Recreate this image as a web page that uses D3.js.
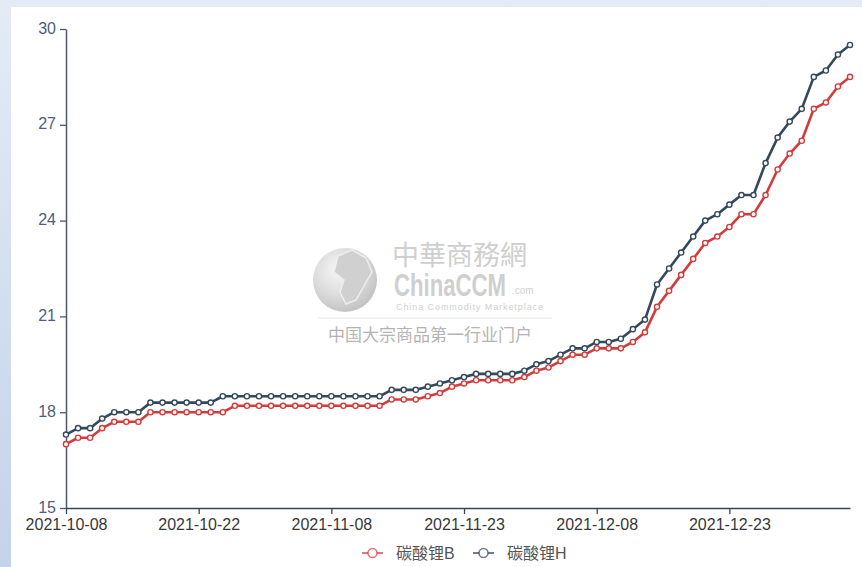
<!DOCTYPE html>
<html>
<head>
<meta charset="utf-8">
<title>碳酸锂 price chart</title>
<style>
  body { margin: 0; padding: 0; background: #fff; }
  svg { display: block; font-family: "Liberation Sans", "Noto Sans CJK SC", sans-serif; }
</style>
</head>
<body>
<script src="https://d3js.org/d3.v7.min.js"></script>
<script>
  var width = 862,
      height = 567;

  // trading days shown on the category axis
  var dates = [
    "2021-10-08", "2021-10-09", "2021-10-11", "2021-10-12", "2021-10-13", "2021-10-14", "2021-10-15",
    "2021-10-18", "2021-10-19", "2021-10-20", "2021-10-21", "2021-10-22",
    "2021-10-25", "2021-10-26", "2021-10-27", "2021-10-28", "2021-10-29",
    "2021-11-01", "2021-11-02", "2021-11-03", "2021-11-04", "2021-11-05",
    "2021-11-08", "2021-11-09", "2021-11-10", "2021-11-11", "2021-11-12",
    "2021-11-15", "2021-11-16", "2021-11-17", "2021-11-18", "2021-11-19",
    "2021-11-22", "2021-11-23", "2021-11-24", "2021-11-25", "2021-11-26",
    "2021-11-29", "2021-11-30", "2021-12-01", "2021-12-02", "2021-12-03",
    "2021-12-06", "2021-12-07", "2021-12-08", "2021-12-09", "2021-12-10",
    "2021-12-13", "2021-12-14", "2021-12-15", "2021-12-16", "2021-12-17",
    "2021-12-20", "2021-12-21", "2021-12-22", "2021-12-23", "2021-12-24",
    "2021-12-27", "2021-12-28", "2021-12-29", "2021-12-30", "2021-12-31",
    "2022-01-04", "2022-01-05", "2022-01-06", "2022-01-07"
  ];

  var seriesB = [
    17.0, 17.2, 17.2, 17.5, 17.7, 17.7, 17.7, 18.0, 18.0, 18.0, 18.0, 18.0,
    18.0, 18.0, 18.2, 18.2, 18.2, 18.2, 18.2, 18.2, 18.2, 18.2,
    18.2, 18.2, 18.2, 18.2, 18.2, 18.4, 18.4, 18.4, 18.5, 18.6,
    18.8, 18.9, 19.0, 19.0, 19.0, 19.0, 19.1, 19.3, 19.4, 19.6,
    19.8, 19.8, 20.0, 20.0, 20.0, 20.2, 20.5, 21.3, 21.8, 22.3,
    22.8, 23.3, 23.5, 23.8, 24.2, 24.2, 24.8, 25.6, 26.1, 26.5,
    27.5, 27.7, 28.2, 28.5
  ];

  var seriesH = [
    17.3, 17.5, 17.5, 17.8, 18.0, 18.0, 18.0, 18.3, 18.3, 18.3, 18.3, 18.3,
    18.3, 18.5, 18.5, 18.5, 18.5, 18.5, 18.5, 18.5, 18.5, 18.5,
    18.5, 18.5, 18.5, 18.5, 18.5, 18.7, 18.7, 18.7, 18.8, 18.9,
    19.0, 19.1, 19.2, 19.2, 19.2, 19.2, 19.3, 19.5, 19.6, 19.8,
    20.0, 20.0, 20.2, 20.2, 20.3, 20.6, 20.9, 22.0, 22.5, 23.0,
    23.5, 24.0, 24.2, 24.5, 24.8, 24.8, 25.8, 26.6, 27.1, 27.5,
    28.5, 28.7, 29.2, 29.5
  ];

  var seriesNames = ["碳酸锂B", "碳酸锂H"];
  var seriesColors = ["#d43c3c", "#34495c"];
  var yTicks = [15, 18, 21, 24, 27, 30];
  var xLabelEvery = 11;

  var svg = d3.select("body").append("svg")
      .attr("width", width)
      .attr("height", height);

  // page frame: bluish border strips and white panel
  var defs = svg.append("defs");
  var bgGrad = defs.append("linearGradient")
      .attr("id", "bg-grad")
      .attr("x1", 0).attr("y1", 0).attr("x2", 0).attr("y2", 1);
  bgGrad.append("stop").attr("offset", "0%").attr("stop-color", "#e4ebf5");
  bgGrad.append("stop").attr("offset", "100%").attr("stop-color", "#c3d3ea");

  svg.append("rect")
      .attr("width", width)
      .attr("height", height)
      .attr("fill", "url(#bg-grad)");

  svg.append("rect")
      .attr("x", 11)
      .attr("y", 7)
      .attr("width", width - 11)
      .attr("height", height - 7)
      .attr("fill", "#fff");

  // watermark
  var globeGrad = defs.append("radialGradient")
      .attr("id", "globe-grad")
      .attr("cx", "40%").attr("cy", "35%").attr("r", "65%");
  globeGrad.append("stop").attr("offset", "0%").attr("stop-color", "#f7f7f7");
  globeGrad.append("stop").attr("offset", "60%").attr("stop-color", "#dcdcdc");
  globeGrad.append("stop").attr("offset", "100%").attr("stop-color", "#c4c4c4");

  var wm = svg.append("g").attr("class", "watermark");
  wm.append("circle")
      .attr("cx", 345).attr("cy", 280).attr("r", 32)
      .attr("fill", "url(#globe-grad)");
  wm.append("path")
      .attr("d", "M338,256 L352,250 L366,258 L372,272 L364,286 L356,300 L346,304 L340,292 L344,280 L334,272 Z")
      .attr("fill", "#d0d0d0")
      .attr("stroke", "#eeeeee")
      .attr("stroke-width", 1.5);
  wm.append("text")
      .attr("x", 392).attr("y", 265)
      .attr("font-size", 27)
      .attr("fill", "#cfcfcf")
      .text("中華商務網");
  wm.append("text")
      .attr("x", 394).attr("y", 296)
      .attr("font-size", 31)
      .attr("font-weight", "bold")
      .attr("textLength", 112)
      .attr("lengthAdjust", "spacingAndGlyphs")
      .attr("fill", "#cfcfcf")
      .text("ChinaCCM");
  wm.append("text")
      .attr("x", 512).attr("y", 294)
      .attr("font-size", 10)
      .attr("fill", "#cfcfcf")
      .text(".com");
  wm.append("text")
      .attr("x", 396).attr("y", 310)
      .attr("font-size", 9)
      .attr("textLength", 147)
      .attr("fill", "#cfcfcf")
      .text("China Commodity Marketplace");
  wm.append("line")
      .attr("x1", 318).attr("x2", 552)
      .attr("y1", 318).attr("y2", 318)
      .attr("stroke", "#e6e6e6");
  wm.append("text")
      .attr("x", 328).attr("y", 341)
      .attr("font-size", 17)
      .attr("fill", "#b4b4b4")
      .text("中国大宗商品第一行业门户");

  // scales
  var x = d3.scalePoint()
      .domain(dates)
      .range([66, 850])
      .padding(0);

  var y = d3.scaleLinear()
      .domain([15, 30])
      .range([508, 29]);

  // axes
  var yAxis = svg.append("g")
      .attr("transform", "translate(66,0)")
      .call(d3.axisLeft(y).tickValues(yTicks).tickSize(6).tickSizeOuter(0).tickPadding(4));
  yAxis.select(".domain").attr("stroke", "#4c5872").attr("stroke-width", 1.5);
  yAxis.selectAll(".tick line").attr("stroke", "#4c5872").attr("stroke-width", 1.3);
  yAxis.selectAll(".tick text")
      .attr("fill", "#4f5c7d")
      .attr("dy", "0.25em")
      .attr("font-size", 16);

  var xAxis = svg.append("g")
      .attr("transform", "translate(0,508)")
      .call(d3.axisBottom(x)
        .tickValues(dates.filter(function(d, i) { return i % xLabelEvery === 0; }))
        .tickSize(6).tickSizeOuter(0).tickPadding(5));
  xAxis.select(".domain").attr("stroke", "#3a4356").attr("stroke-width", 1.5);
  xAxis.selectAll(".tick line").attr("stroke", "#3a4356").attr("stroke-width", 1.3);
  xAxis.selectAll(".tick text")
      .attr("fill", "#383838")
      .attr("font-size", 16);

  // lines + hollow markers
  var allSeries = [seriesB, seriesH];

  var line = d3.line()
      .x(function(d, i) { return x(dates[i]); })
      .y(function(d) { return y(d); });

  allSeries.forEach(function(values, s) {
    var g = svg.append("g").attr("class", "series");
    g.append("path")
        .datum(values)
        .attr("fill", "none")
        .attr("stroke", seriesColors[s])
        .attr("stroke-width", 2.6)
        .attr("stroke-linejoin", "round")
        .attr("d", line);
    g.selectAll("circle")
        .data(values)
        .enter().append("circle")
          .attr("cx", function(d, i) { return x(dates[i]); })
          .attr("cy", function(d) { return y(d); })
          .attr("r", 2.6)
          .attr("fill", "#fff")
          .attr("stroke", seriesColors[s])
          .attr("stroke-width", 1.4);
  });

  // legend
  var legendX = [362, 473];
  var legend = svg.selectAll(".legend")
      .data(seriesNames)
      .enter().append("g")
        .attr("class", "legend")
        .attr("transform", function(d, i) { return "translate(" + legendX[i] + ",553)"; });
  legend.append("line")
      .attr("x1", 0).attr("x2", 21)
      .attr("stroke", function(d, i) { return seriesColors[i]; })
      .attr("stroke-opacity", 0.7)
      .attr("stroke-width", 2);
  legend.append("circle")
      .attr("cx", 10.5).attr("r", 4.5)
      .attr("fill", "#fff")
      .attr("stroke", function(d, i) { return seriesColors[i]; })
      .attr("stroke-opacity", 0.7)
      .attr("stroke-width", 1.6);
  legend.append("text")
      .attr("x", 34)
      .attr("dy", "0.36em")
      .attr("font-size", 16)
      .attr("fill", "#555")
      .text(function(d) { return d; });
</script>
</body>
</html>
